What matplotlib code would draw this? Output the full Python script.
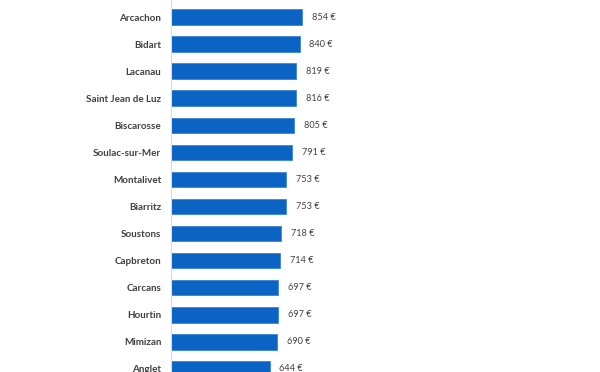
import matplotlib.pyplot as plt

# prix moyens par commune (€)
villes = ["Arcachon", "Bidart", "Lacanau", "Saint Jean de Luz", "Biscarosse",
          "Soulac-sur-Mer", "Montalivet", "Biarritz", "Soustons", "Capbreton",
          "Carcans", "Hourtin", "Mimizan", "Anglet"]
prix = [854, 840, 819, 816, 805, 791, 753, 753, 718, 714, 697, 697, 690, 644]

plt.rcParams["font.family"] = ["Lato", "DejaVu Sans"]

fig = plt.figure(figsize=(6, 3.72), dpi=100)
ax = fig.add_axes([171 / 600, 0, 1 - 171 / 600, 1])

pos = list(range(len(villes)))
ax.barh(pos, prix, height=0.58, color="#0b63c4", edgecolor="#3a86d6", linewidth=0.6)

for y, v in zip(pos, prix):
    ax.text(v + 65, y, f"{v} €", va="center", ha="left", fontsize=6.6, color="#404040")

ax.set_xlim(0, 2804)
ax.set_ylim(13.12, -0.636)
ax.set_yticks(pos)
ax.set_yticklabels(villes, fontsize=7.1, color="#404040", fontweight="bold")
ax.tick_params(axis="y", length=0, pad=7)
ax.set_xticks([])

for s in ["top", "right", "bottom"]:
    ax.spines[s].set_visible(False)
ax.spines["left"].set_color("#d9d9d9")
ax.spines["left"].set_linewidth(0.8)

fig.savefig("out.png", dpi=100)
